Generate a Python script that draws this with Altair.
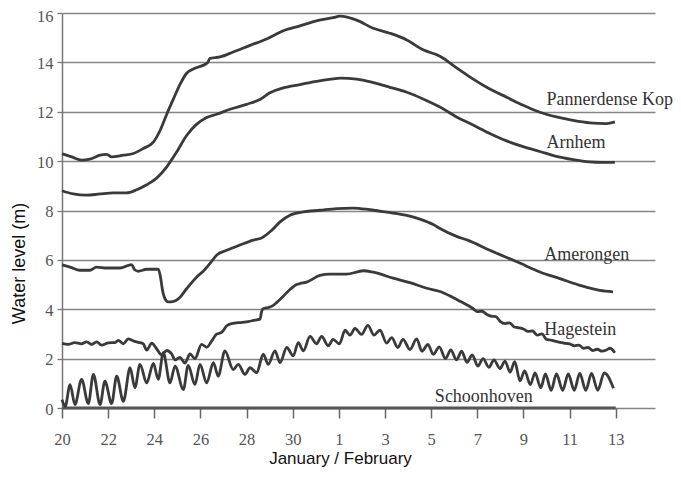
import json
import altair as alt
import pandas as pd

# x axis: days since 20 January (0 = Jan 20, 12 = Feb 1, 24 = Feb 13)
tick_days = [0, 2, 4, 6, 8, 10, 12, 14, 16, 18, 20, 22, 24]
tick_labels = ["20", "22", "24", "26", "28", "30", "1", "3", "5", "7", "9", "11", "13"]
y_ticks = [0, 2, 4, 6, 8, 10, 12, 14, 16]

pk_days = [0.0, 0.42, 0.85, 1.21, 1.65, 1.94, 2.15, 2.66, 3.09, 3.52, 3.96, 4.25, 4.54, 4.82,
           5.11, 5.40, 5.76, 6.27, 6.32, 6.41, 6.85, 7.42, 8.15, 8.87, 9.59, 10.31, 11.03,
           11.75, 12.05, 12.77, 13.49, 14.21, 14.94, 15.65, 16.38, 17.10, 17.82, 18.54,
           19.27, 19.99, 20.71, 21.43, 22.15, 22.88, 23.60, 23.96]
pk_vals = [10.3, 10.17, 10.04, 10.08, 10.24, 10.27, 10.17, 10.24, 10.31, 10.51, 10.77, 11.24,
           11.9, 12.5, 13.1, 13.56, 13.76, 13.96, 14.0, 14.16, 14.22, 14.42, 14.69, 14.95,
           15.28, 15.48, 15.68, 15.81, 15.87, 15.71, 15.38, 15.18, 14.91, 14.51, 14.25,
           13.78, 13.32, 12.92, 12.59, 12.26, 11.98, 11.79, 11.65, 11.55, 11.52, 11.59]

ar_days = [0.0, 0.49, 1.07, 1.65, 2.22, 2.80, 3.24, 3.67, 4.10, 4.54, 4.97, 5.40, 5.84, 6.27,
           6.70, 7.28, 8.00, 8.58, 9.01, 9.59, 10.31, 11.03, 11.75, 12.05, 12.77, 13.49,
           14.21, 14.94, 15.65, 16.38, 17.10, 17.82, 18.54, 19.27, 19.99, 20.71, 21.43,
           22.15, 22.88, 23.40, 23.96]
ar_vals = [8.8, 8.67, 8.62, 8.67, 8.71, 8.71, 8.84, 9.04, 9.31, 9.77, 10.37, 11.04, 11.5,
           11.77, 11.9, 12.1, 12.3, 12.5, 12.77, 12.97, 13.1, 13.23, 13.33, 13.36, 13.32,
           13.18, 12.99, 12.79, 12.52, 12.19, 11.79, 11.46, 11.12, 10.82, 10.59, 10.39,
           10.19, 10.06, 9.97, 9.95, 9.95]

am_days = [0.0, 0.35, 0.78, 1.21, 1.50, 1.94, 2.51, 3.02, 3.15, 3.31, 3.67, 4.17, 4.27, 4.35,
           4.45, 4.60, 4.80, 5.04, 5.40, 5.84, 6.12, 6.41, 6.70, 7.14, 7.71, 8.29, 8.65,
           9.09, 9.45, 9.88, 10.46, 11.18, 11.90, 12.62, 13.35, 14.07, 14.94, 15.51, 16.09,
           16.38, 17.10, 17.60, 18.54, 19.84, 20.71, 21.58, 22.44, 23.31, 23.88]
am_vals = [5.8, 5.71, 5.58, 5.58, 5.71, 5.67, 5.67, 5.81, 5.6, 5.54, 5.62, 5.62, 5.3, 4.8,
           4.45, 4.3, 4.31, 4.42, 4.83, 5.31, 5.54, 5.85, 6.19, 6.39, 6.6, 6.8, 6.89, 7.2,
           7.54, 7.81, 7.94, 8.01, 8.08, 8.1, 8.03, 7.93, 7.8, 7.65, 7.43, 7.27, 6.95, 6.79,
           6.39, 5.87, 5.51, 5.24, 4.97, 4.76, 4.7]

hg_days = [0.0, 0.27, 0.56, 0.85, 1.07, 1.29, 1.50, 1.72, 2.01, 2.30, 2.44, 2.66, 2.87, 3.09,
           3.31, 3.52, 3.67, 3.89, 4.10, 4.32, 4.54, 4.75, 4.90, 5.11, 5.33, 5.55, 5.76,
           6.05, 6.27, 6.49, 6.70, 6.92, 7.14, 7.35, 7.79, 8.07, 8.36, 8.58, 8.65, 8.72,
           8.94, 9.16, 9.30, 9.59, 9.88, 10.17, 10.31, 10.60, 11.18, 11.60, 12.33, 13.06,
           13.49, 14.35, 15.08, 15.80, 16.38, 16.90, 17.30, 17.60, 17.82, 18.00, 18.20,
           18.40, 18.60, 18.80, 19.00, 19.20, 19.40, 19.60, 19.80, 20.00, 20.20, 20.40,
           20.60, 20.80, 21.00, 21.20, 21.40, 21.60, 21.80, 22.00, 22.20, 22.40, 22.60,
           22.80, 23.00, 23.20, 23.40, 23.60, 23.75, 23.96]
hg_vals = [2.62, 2.58, 2.65, 2.6, 2.68, 2.58, 2.68, 2.55, 2.64, 2.65, 2.74, 2.6, 2.8, 2.72,
           2.66, 2.6, 2.35, 2.63, 2.4, 2.15, 2.33, 2.19, 1.95, 2.05, 1.82, 2.19, 2.0, 2.58,
           2.46, 2.72, 2.99, 3.06, 3.33, 3.42, 3.47, 3.5, 3.56, 3.6, 3.9, 4.02, 4.07, 4.16,
           4.27, 4.53, 4.8, 5.0, 5.04, 5.1, 5.37, 5.42, 5.42, 5.56, 5.5, 5.26, 5.08, 4.85,
           4.72, 4.5, 4.3, 4.15, 4.02, 3.9, 3.92, 3.8, 3.72, 3.7, 3.5, 3.42, 3.45, 3.28,
           3.25, 3.2, 3.1, 3.12, 2.95, 3.0, 2.78, 2.75, 2.7, 2.66, 2.62, 2.6, 2.52, 2.55,
           2.42, 2.45, 2.33, 2.38, 2.3, 2.35, 2.42, 2.24]

sh_days = [0.0, 0.14, 0.35, 0.56, 0.85, 1.14, 1.36, 1.65, 1.86, 2.15, 2.37, 2.66, 2.95, 3.16,
           3.38, 3.67, 3.96, 4.17, 4.39, 4.68, 4.90, 5.26, 5.47, 5.76, 5.98, 6.27, 6.56,
           6.77, 7.06, 7.42, 7.64, 7.93, 8.15, 8.44, 8.72, 8.94, 9.23, 9.45, 9.74, 10.02,
           10.24, 10.46, 10.75, 11.03, 11.25, 11.54, 11.75, 12.02, 12.27, 12.48, 12.70,
           12.98, 13.26, 13.52, 13.78, 14.07, 14.29, 14.55, 14.78, 15.08, 15.37, 15.60,
           15.86, 16.09, 16.35, 16.62, 16.85, 17.10, 17.32, 17.55, 17.78, 18.02, 18.25,
           18.50, 18.72, 18.98, 19.20, 19.42, 19.62, 19.85, 20.05, 20.30, 20.50, 20.75,
           20.95, 21.20, 21.43, 21.70, 21.94, 22.20, 22.44, 22.70, 22.95, 23.22, 23.50,
           23.90]
sh_vals = [0.34, 0.07, 0.95, 0.14, 1.16, 0.18, 1.36, 0.14, 1.09, 0.18, 1.29, 0.27, 1.63, 0.82,
           1.77, 1.02, 1.81, 1.16, 2.24, 1.02, 1.7, 0.75, 1.73, 0.95, 1.77, 1.02, 1.84, 1.29,
           2.31, 1.56, 1.77, 1.36, 1.63, 1.43, 2.18, 1.77, 2.31, 1.84, 2.45, 2.11, 2.65,
           2.31, 2.9, 2.6, 2.9, 2.52, 2.78, 2.6, 3.15, 2.95, 3.22, 2.98, 3.35, 2.95, 3.15,
           2.63, 2.85, 2.45, 2.78, 2.37, 2.8, 2.3, 2.58, 2.17, 2.48, 2.0, 2.35, 1.95, 2.3,
           1.85, 2.15, 1.7, 2.0, 1.65, 1.95, 1.6, 1.9, 1.45, 1.88, 1.1, 1.5, 0.95, 1.42,
           0.82, 1.38, 0.72, 1.38, 0.72, 1.38, 0.72, 1.4, 0.72, 1.4, 0.72, 1.42, 0.8]

label_names = ["Pannerdense Kop", "Arnhem", "Amerongen", "Hagestein", "Schoonhoven"]
label_days = [21.0, 21.0, 20.9, 20.9, 16.16]
label_levels = [12.47, 10.73, 6.18, 3.14, 0.43]

series = [("Pannerdense Kop", pk_days, pk_vals), ("Arnhem", ar_days, ar_vals),
          ("Amerongen", am_days, am_vals), ("Hagestein", hg_days, hg_vals),
          ("Schoonhoven", sh_days, sh_vals)]
rows = []
for name, d, v in series:
    for i, (a, b) in enumerate(zip(d, v)):
        rows.append({"series": name, "day": a, "level": b, "order": i})
df = pd.DataFrame(rows)

lab_df = pd.DataFrame({"name": label_names, "day": label_days, "level": label_levels})
base_df = pd.DataFrame({"x0": [tick_days[0]], "x1": [tick_days[-1]], "y": [y_ticks[0]]})

xs = alt.Scale(domain=[0, 25.7], nice=False, zero=False)
ys = alt.Scale(domain=[y_ticks[0], y_ticks[-1]], nice=False)

label_expr = f"{json.dumps(tick_labels)}[indexof({json.dumps(tick_days)}, datum.value)]"

x_axis = alt.Axis(values=tick_days, labelExpr=label_expr, grid=False, domain=False,
                  labelFlush=False, labelOverlap=False,
                  tickColor="#666", tickSize=10, tickWidth=1.5,
                  labelFont="Liberation Serif", labelFontSize=16.5, labelColor="#555",
                  labelPadding=13, title="January / February", titleFont="Liberation Sans",
                  titleFontSize=17, titleFontWeight="normal", titleColor="#111",
                  titleX=278, titleY=50, titleBaseline="middle", titleAlign="center")
y_axis = alt.Axis(values=y_ticks, grid=True, gridColor="#858585", gridWidth=1.3,
                  domain=True, domainColor="#777", domainWidth=1.5,
                  labelFlush=False, labelOverlap=False,
                  labelOffset={"condition": {"test": "datum.value == 16", "value": 3}, "value": 1},
                  tickSize=5, tickColor="#777", tickWidth=1.3, labelPadding=4,
                  labelFont="Liberation Serif", labelFontSize=16.5, labelColor="#555",
                  title="Water level (m)", titleFont="Liberation Sans", titleFontSize=18,
                  titleFontWeight="normal", titleColor="#111", titleX=-43, titleY=250,
                  titleAngle=270, titleAlign="center", titleBaseline="middle")

lines = alt.Chart(df).mark_line(color="#3a3a3a", strokeWidth=2.8, interpolate="monotone").encode(
    x=alt.X("day:Q", scale=xs, axis=x_axis),
    y=alt.Y("level:Q", scale=ys, axis=y_axis),
    detail="series:N",
    order="order:Q",
)

base = alt.Chart(base_df).mark_rule(color="#555", strokeWidth=3).encode(
    x=alt.X("x0:Q", scale=xs), x2="x1:Q", y=alt.Y("y:Q", scale=ys))

labels = alt.Chart(lab_df).mark_text(align="left", baseline="middle", font="Liberation Serif",
                                     fontSize=18, color="#333").encode(
    x=alt.X("day:Q", scale=xs), y=alt.Y("level:Q", scale=ys), text="name:N")

chart = alt.layer(base, lines, labels).properties(
    width=593, height=395,
    padding={"left": 54, "top": 5, "right": 18, "bottom": 60},
    autosize=alt.AutoSizeParams(type="none"),
).configure_view(stroke=None)

chart.save("out.html", embed_options={"renderer": "svg", "actions": False})
